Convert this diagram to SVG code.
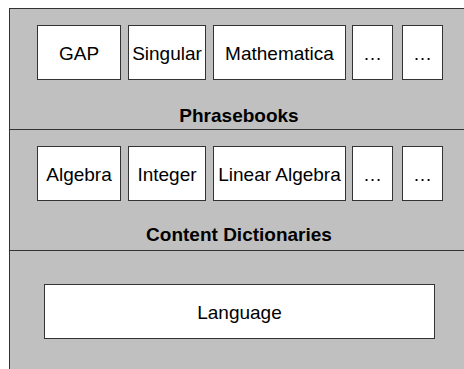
<svg xmlns="http://www.w3.org/2000/svg" width="464" height="369" viewBox="0 0 464 369">
<style>
.layer{fill:#c0c0c0;stroke:#333;stroke-width:1}
.box{fill:#fff;stroke:#333;stroke-width:1}
.t{font-family:"Liberation Sans",Arial,sans-serif;font-size:19px;fill:#000;text-anchor:middle}
.b{font-weight:bold}
</style>
<rect width="464" height="369" fill="#fff"/>
<g id="layer-phrasebooks">
<rect class="layer" x="9.5" y="8.5" width="470" height="121"/>
<text class="t b" x="239" y="122">Phrasebooks</text>
</g>
<g id="layer-cd">
<rect class="layer" x="9.5" y="129.5" width="470" height="121"/>
<text class="t b" x="239" y="241">Content Dictionaries</text>
</g>
<g id="layer-language">
<rect class="layer" x="9.5" y="250.5" width="470" height="130"/>
</g>
<g id="gap"><rect class="box" x="37.5" y="25.5" width="83" height="54"/><text class="t" x="79" y="59.5">GAP</text></g>
<g id="singular"><rect class="box" x="128.5" y="25.5" width="77" height="54"/><text class="t" x="167" y="59.5">Singular</text></g>
<g id="mathematica"><rect class="box" x="213.5" y="25.5" width="132" height="54"/><text class="t" x="279.5" y="59.5">Mathematica</text></g>
<g id="pb-more1"><rect class="box" x="352.5" y="25.5" width="40" height="54"/><text class="t" x="372.5" y="59.5">…</text></g>
<g id="pb-more2"><rect class="box" x="402.5" y="25.5" width="40" height="54"/><text class="t" x="422.5" y="59.5">…</text></g>
<g id="algebra"><rect class="box" x="37.5" y="146.5" width="83" height="54"/><text class="t" x="79" y="180.5">Algebra</text></g>
<g id="integer"><rect class="box" x="128.5" y="146.5" width="77" height="54"/><text class="t" x="167" y="180.5">Integer</text></g>
<g id="linear-algebra"><rect class="box" x="213.5" y="146.5" width="132" height="54"/><text class="t" x="279.5" y="180.5">Linear Algebra</text></g>
<g id="cd-more1"><rect class="box" x="352.5" y="146.5" width="40" height="54"/><text class="t" x="372.5" y="180.5">…</text></g>
<g id="cd-more2"><rect class="box" x="402.5" y="146.5" width="40" height="54"/><text class="t" x="422.5" y="180.5">…</text></g>
<g id="language"><rect class="box" x="44.5" y="284.5" width="390" height="54"/><text class="t" x="239.5" y="318.5">Language</text></g>
<g id="connectors"></g>
</svg>
